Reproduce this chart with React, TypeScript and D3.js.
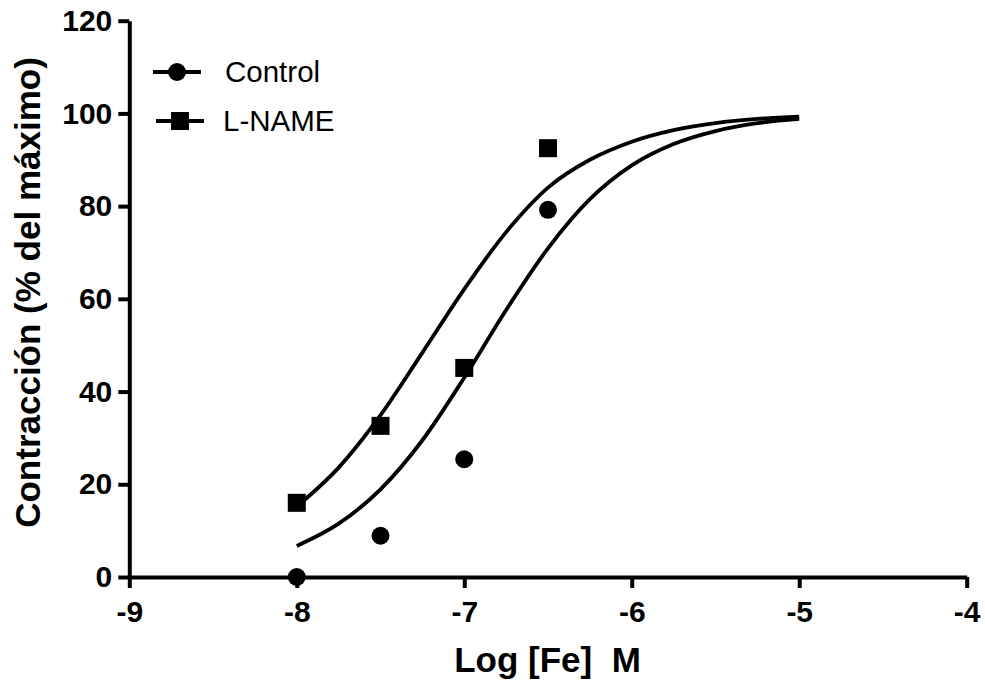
import React, { useRef, useEffect } from 'react';
import * as d3 from 'd3';

// measured points
const doseLog = [-8, -7.5, -7, -6.5];
const controlValues = [0, 8.9, 25.4, 79.2];
const lnameValues = [16.0, 32.6, 45.1, 92.5];

// fitted curves, every 0.25 log units
const curveLog = [-8, -7.75, -7.5, -7.25, -7, -6.75, -6.5, -6.25, -6, -5.75, -5.5, -5.25, -5];
const controlFit = [6.7, 11.5, 18.9, 29.5, 43.0, 57.6, 70.9, 81.5, 88.8, 93.4, 96.2, 97.9, 98.8];
const lnameFit = [15.2, 23.6, 34.9, 48.4, 62.1, 74.4, 84.0, 90.0, 93.9, 96.4, 97.9, 98.8, 99.3];

const xTicks = [-9, -8, -7, -6, -5, -4];
const yTicks = [0, 20, 40, 60, 80, 100, 120];

const seriesNames = ['Control', 'L-NAME'];

const FONT = "Arial, 'Liberation Sans', sans-serif";

function App() {
  const ref = useRef<SVGSVGElement | null>(null);

  useEffect(() => {
    drawChart();
  }, []);

  function drawChart() {
    const svg = d3.select(ref.current);
    svg.selectAll('*').remove();

    const x = d3.scaleLinear().domain([-9, -4]).range([129.3, 966.7]);
    const y = d3.scaleLinear().domain([0, 120]).range([577, 20.7]);

    const line = d3
      .line<number>()
      .x((d, i) => x(curveLog[i]))
      .y(d => y(d))
      .curve(d3.curveMonotoneX);

    [controlFit, lnameFit].forEach(vals => {
      svg
        .append('path')
        .datum(vals)
        .attr('fill', 'none')
        .attr('stroke', '#000')
        .attr('stroke-width', 3.8);
    });
    svg.selectAll('path').attr('d', line as any);

    // axes
    const xAxis = svg
      .append('g')
      .attr('transform', 'translate(0,' + y(0) + ')')
      .call(
        d3.axisBottom(x)
          .tickValues(xTicks)
          .tickSize(11)
          .tickSizeOuter(0)
          .tickPadding(13)
          .tickFormat(d3.format('d'))
      );

    const yAxis = svg
      .append('g')
      .attr('transform', 'translate(' + x(-9) + ',0)')
      .call(
        d3.axisLeft(y)
          .tickValues(yTicks)
          .tickSize(11)
          .tickSizeOuter(0)
          .tickPadding(6)
          .tickFormat(d3.format('d'))
      );

    [xAxis, yAxis].forEach(g => {
      g.select('.domain').attr('stroke', '#000').attr('stroke-width', 4);
      g.selectAll('.tick line').attr('stroke', '#000').attr('stroke-width', 4);
      g.selectAll('.tick text')
        .attr('fill', '#000')
        .style('font-family', FONT)
        .style('font-size', '30px')
        .style('font-weight', 'bold');
    });
    // d3 uses a unicode minus; the original uses a hyphen
    xAxis.selectAll('.tick text').text((d: any) => String(d));

    // points
    svg
      .append('g')
      .selectAll('circle')
      .data(controlValues)
      .join('circle')
      .attr('cx', (d, i) => x(doseLog[i]))
      .attr('cy', d => y(d))
      .attr('r', 9)
      .attr('fill', '#000');

    svg
      .append('g')
      .selectAll('rect')
      .data(lnameValues)
      .join('rect')
      .attr('x', (d, i) => x(doseLog[i]) - 9)
      .attr('y', d => y(d) - 9)
      .attr('width', 18)
      .attr('height', 18)
      .attr('fill', '#000');

    // legend
    const legend = svg.append('g');
    seriesNames.forEach((name, i) => {
      const cy = 72 + i * 49;
      const x0 = 153 + i * 3;
      legend
        .append('line')
        .attr('x1', x0)
        .attr('x2', x0 + 48)
        .attr('y1', cy)
        .attr('y2', cy)
        .attr('stroke', '#000')
        .attr('stroke-width', 4);
      if (i === 0) {
        legend.append('circle').attr('cx', x0 + 24).attr('cy', cy).attr('r', 9).attr('fill', '#000');
      } else {
        legend
          .append('rect')
          .attr('x', x0 + 24 - 9)
          .attr('y', cy - 9)
          .attr('width', 18)
          .attr('height', 18)
          .attr('fill', '#000');
      }
      legend
        .append('text')
        .attr('x', 225 - i * 2)
        .attr('y', cy + 10)
        .style('font-family', FONT)
        .style('font-size', '29.5px')
        .text(name);
    });

    // axis titles
    svg
      .append('text')
      .attr('x', 547.5)
      .attr('y', 672)
      .attr('text-anchor', 'middle')
      .style('font-family', FONT)
      .style('font-size', '35px')
      .style('font-weight', 'bold')
      .style('white-space', 'pre')
      .text('Log [Fe]  M');

    svg
      .append('text')
      .attr('transform', 'translate(40,292.5) rotate(-90)')
      .attr('text-anchor', 'middle')
      .style('font-family', FONT)
      .style('font-size', '35px')
      .style('font-weight', 'bold')
      .text('Contracción (% del máximo)');
  }

  return (
    <svg
      ref={ref}
      width={985}
      height={684}
      style={{ position: 'absolute', left: 0, top: 0, background: '#fff' }}
    />
  );
}

export default App;
